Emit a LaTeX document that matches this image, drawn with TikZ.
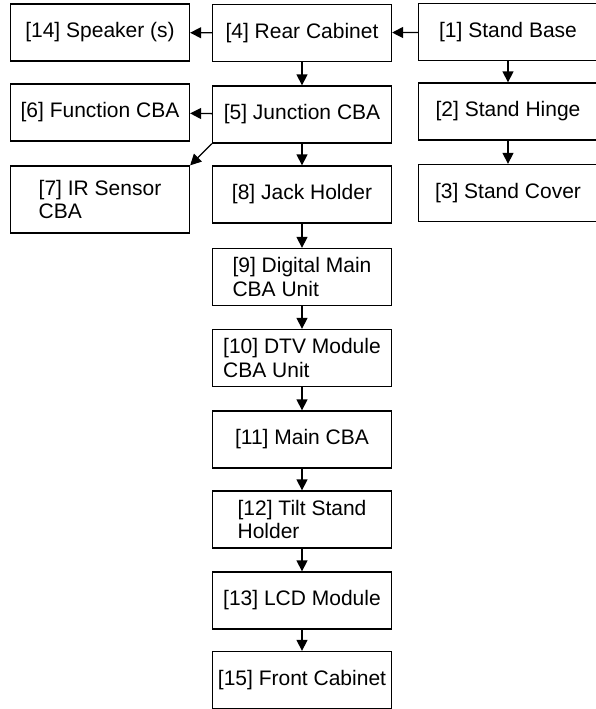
\documentclass[tikz,border=0pt]{standalone}
\usepackage{fontspec}
\setmainfont{Liberation Sans}
\usetikzlibrary{arrows.meta}
\begin{document}
\begin{tikzpicture}[x=1pt,y=-1pt,
  part/.style={draw, line width=1.3pt, minimum width=179pt, minimum height=57pt,
    inner sep=0pt, align=left, font=\fontsize{21}{23.5}\selectfont},
  link/.style={line width=1.3pt, -{Triangle[length=11pt,width=11pt]}}]
\useasboundingbox (0,0) rectangle (595,709);
% middle column
\node[part] (rc) at (302,33) {[4] Rear Cabinet};
\node[part] (jc) at (302,114.5) {[5] Junction CBA};
\node[part] (jh) at (302,194.5) {[8] Jack Holder};
\node[part] (dm) at (302,277) {[9] Digital Main\\CBA Unit};
\node[part] (dtv) at (302,358) {[10] DTV Module\\CBA Unit};
\node[part] (mc) at (302,439.5) {[11] Main CBA};
\node[part] (ts) at (302,519.5) {[12] Tilt Stand\\Holder};
\node[part] (lcd) at (302,600.5) {[13] LCD Module};
\node[part] (fc) at (302,680) {[15] Front Cabinet};
% left column
\node[part] (sp) at (100,32.5) {[14] Speaker (s)};
\node[part] (fn) at (100,112.5) {[6] Function CBA};
\node[part, minimum height=67pt] (ir) at (100,199.5) {[7] IR Sensor\\CBA};
% right column
\node[part] (sb) at (508,32) {[1] Stand Base};
\node[part] (sh) at (508,111.5) {[2] Stand Hinge};
\node[part] (sc) at (508,193) {[3] Stand Cover};
% connectors
\draw[link] (sb) -- (rc);
\draw[link] (rc) -- (sp);
\draw[link] (jc) -- (fn);
\draw[link] (jc.south west) -- (ir.north east);
\draw[link] (sb) -- (sh);
\draw[link] (sh) -- (sc);
\draw[link] (rc) -- (jc);
\draw[link] (jc) -- (jh);
\draw[link] (jh) -- (dm);
\draw[link] (dm) -- (dtv);
\draw[link] (dtv) -- (mc);
\draw[link] (mc) -- (ts);
\draw[link] (ts) -- (lcd);
\draw[link] (lcd) -- (fc);
\end{tikzpicture}
\end{document}
